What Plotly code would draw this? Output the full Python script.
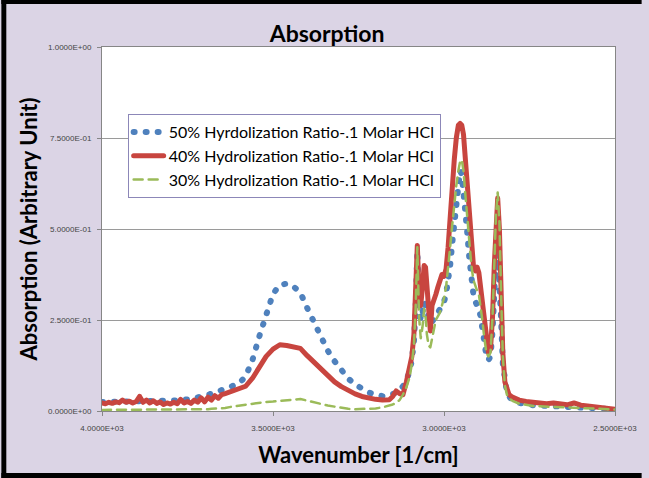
import plotly.graph_objects as go

# ---------------- data ----------------
wn_a = [4000, 3990, 3980, 3970, 3960, 3950, 3940, 3930, 3920, 3910, 3900, 3890,
        3880, 3870, 3860, 3850, 3840, 3830, 3820, 3810, 3800, 3790, 3780, 3770,
        3760, 3750, 3740, 3730, 3720, 3710, 3700, 3690, 3680, 3670, 3660, 3650]
red_a = [0.022, 0.020, 0.024, 0.021, 0.025, 0.023, 0.030, 0.024, 0.027, 0.022, 0.026, 0.040,
         0.024, 0.030, 0.022, 0.028, 0.021, 0.025, 0.018, 0.022, 0.019, 0.024, 0.020, 0.032,
         0.022, 0.026, 0.021, 0.030, 0.024, 0.036, 0.025, 0.038, 0.030, 0.042, 0.035, 0.045]
blue_a = [0.025, 0.025, 0.025, 0.025, 0.025, 0.025, 0.025, 0.025, 0.025, 0.025, 0.025, 0.025,
          0.025, 0.025, 0.025, 0.026, 0.026, 0.027, 0.027, 0.028, 0.028, 0.029, 0.029, 0.030,
          0.030, 0.031, 0.033, 0.035, 0.037, 0.039, 0.041, 0.043, 0.046, 0.050, 0.054, 0.058]
green_a = [0.003, 0.003, 0.003, 0.003, 0.003, 0.003, 0.003, 0.003, 0.003, 0.003, 0.003, 0.003,
           0.003, 0.003, 0.003, 0.003, 0.003, 0.003, 0.003, 0.003, 0.003, 0.003, 0.003, 0.003,
           0.003, 0.003, 0.004, 0.004, 0.004, 0.005, 0.005, 0.005, 0.006, 0.006, 0.007, 0.008]

wn_b = [3640, 3620, 3600, 3580, 3560, 3540, 3520, 3500, 3480, 3460, 3440, 3420, 3400,
        3380, 3360, 3340, 3320, 3300, 3280, 3260, 3240, 3220, 3200, 3180, 3160]
red_b = [0.048, 0.055, 0.060, 0.068, 0.090, 0.120, 0.150, 0.170, 0.182, 0.180, 0.176, 0.172, 0.152,
         0.133, 0.114, 0.095, 0.080, 0.067, 0.056, 0.047, 0.040, 0.035, 0.032, 0.030, 0.031]
blue_b = [0.063, 0.068, 0.075, 0.095, 0.140, 0.205, 0.270, 0.322, 0.346, 0.350, 0.342, 0.325, 0.283,
          0.241, 0.204, 0.166, 0.137, 0.110, 0.089, 0.073, 0.060, 0.051, 0.045, 0.041, 0.043]
green_b = [0.008, 0.012, 0.015, 0.018, 0.021, 0.023, 0.025, 0.026, 0.027, 0.028, 0.031, 0.033, 0.028,
           0.023, 0.019, 0.015, 0.012, 0.008, 0.006, 0.005, 0.005, 0.006, 0.007, 0.010, 0.014]

wn_c = [3150, 3140, 3130, 3120, 3110, 3100, 3094, 3088, 3083, 3078,
        3073, 3068, 3063, 3058, 3054, 3050, 3045, 3040, 3035, 3030,
        3024, 3018, 3012, 3006, 3000, 2994, 2988, 2982, 2976, 2970,
        2964, 2958, 2953, 2948, 2943, 2938, 2932, 2926, 2920, 2914,
        2908, 2903, 2898, 2893, 2888, 2882, 2876, 2870, 2864, 2858,
        2853, 2848, 2843, 2838, 2833, 2828, 2822, 2816, 2810]
red_c = [0.040, 0.055, 0.048, 0.045, 0.080, 0.120, 0.150, 0.210, 0.300, 0.455,
         0.330, 0.290, 0.340, 0.400, 0.395, 0.330, 0.260, 0.220, 0.290, 0.310,
         0.320, 0.340, 0.355, 0.375, 0.370, 0.390, 0.450, 0.540, 0.620, 0.690,
         0.750, 0.785, 0.790, 0.785, 0.760, 0.700, 0.620, 0.530, 0.450, 0.400,
         0.385, 0.395, 0.380, 0.340, 0.290, 0.230, 0.180, 0.160, 0.170, 0.260,
         0.400, 0.530, 0.585, 0.500, 0.320, 0.160, 0.080, 0.055, 0.045]
blue_c = [0.045, 0.050, 0.058, 0.068, 0.085, 0.110, 0.140, 0.190, 0.280, 0.440,
          0.300, 0.250, 0.270, 0.300, 0.290, 0.270, 0.250, 0.240, 0.245, 0.255,
          0.265, 0.270, 0.280, 0.290, 0.300, 0.320, 0.350, 0.400, 0.460, 0.520,
          0.580, 0.630, 0.660, 0.650, 0.610, 0.560, 0.490, 0.420, 0.360, 0.320,
          0.300, 0.290, 0.280, 0.260, 0.220, 0.180, 0.150, 0.140, 0.150, 0.220,
          0.330, 0.420, 0.450, 0.380, 0.250, 0.130, 0.070, 0.050, 0.040]
green_c = [0.018, 0.022, 0.030, 0.045, 0.065, 0.095, 0.130, 0.180, 0.280, 0.450,
           0.260, 0.200, 0.230, 0.280, 0.260, 0.210, 0.180, 0.175, 0.200, 0.230,
           0.250, 0.260, 0.270, 0.290, 0.310, 0.340, 0.390, 0.450, 0.510, 0.570,
           0.620, 0.660, 0.685, 0.690, 0.660, 0.600, 0.530, 0.460, 0.400, 0.360,
           0.340, 0.330, 0.320, 0.290, 0.250, 0.200, 0.160, 0.150, 0.160, 0.260,
           0.400, 0.540, 0.600, 0.520, 0.320, 0.150, 0.070, 0.045, 0.035]

wn_d = [2800, 2780, 2760, 2740, 2720, 2700, 2680, 2660, 2640, 2620, 2600, 2580, 2560, 2540, 2520, 2500]
red_d = [0.038, 0.030, 0.026, 0.024, 0.022, 0.020, 0.022, 0.018, 0.017, 0.022, 0.016, 0.014, 0.012, 0.010, 0.007, 0.005]
blue_d = [0.030, 0.022, 0.018, 0.016, 0.015, 0.014, 0.014, 0.013, 0.012, 0.012, 0.011, 0.010, 0.009, 0.008, 0.006, 0.005]
green_d = [0.028, 0.020, 0.016, 0.014, 0.013, 0.012, 0.012, 0.011, 0.010, 0.010, 0.009, 0.008, 0.007, 0.006, 0.005, 0.004]

wavenumber = wn_a + wn_b + wn_c + wn_d
absorb_50 = blue_a + blue_b + blue_c + blue_d
absorb_40 = red_a + red_b + red_c + red_d
absorb_30 = green_a + green_b + green_c + green_d

series_names = ["50% Hyrdolization Ratio-.1 Molar HCl",
                "40% Hydrolization Ratio-.1 Molar HCl",
                "30% Hydrolization Ratio-.1 Molar HCl"]

x_tickvals = [4000, 3500, 3000, 2500]
x_ticktext = ["4.0000E+03", "3.5000E+03", "3.0000E+03", "2.5000E+03"]
y_tickvals = [0, 0.25, 0.5, 0.75, 1.0]
y_ticktext = ["0.0000E+00", "2.5000E-01", "5.0000E-01", "7.5000E-01", "1.0000E+00"]

# ---------------- figure ----------------
W, H = 649, 478
L, R, T, B = 102, 27, 47, 67
pw, ph = W - L - R, H - T - B
BG = "#DBD4E5"

def px(xp):
    return (xp - L) / pw

def py(yp):
    return (H - B - yp) / ph

fig = go.Figure()
fig.add_trace(go.Scatter(x=wavenumber, y=absorb_50, mode="lines", name=series_names[0],
                         line=dict(color="#4F81BD", width=6, dash="1px,11px")))
fig.add_trace(go.Scatter(x=wavenumber, y=absorb_40, mode="lines", name=series_names[1],
                         line=dict(color="#C8453F", width=5)))
fig.add_trace(go.Scatter(x=wavenumber, y=absorb_30, mode="lines", name=series_names[2],
                         line=dict(color="#9BBB59", width=2.5, dash="9px,6px")))

tickfont = dict(family="Liberation Sans, Arial", size=8, color="#444444")
fig.update_layout(
    width=W, height=H, autosize=False,
    margin=dict(l=L, r=R, t=T, b=B, pad=0),
    paper_bgcolor=BG,
    plot_bgcolor="white",
    showlegend=True,
    title=dict(text="<b>Absorption</b>", x=0.504, xanchor="center", y=1 - 34 / H, yanchor="middle",
               font=dict(family="Lato, Open Sans", size=23, color="black")),
    legend=dict(x=px(128), y=py(114), xanchor="left", yanchor="top",
                bgcolor="white", bordercolor="#8C87B8", borderwidth=1,
                font=dict(family="Lato, Open Sans", size=16, color="black"),
                itemwidth=30, tracegroupgap=0),
    xaxis=dict(range=[4000, 2500], tickvals=x_tickvals, ticktext=x_ticktext,
               showgrid=False, zeroline=False, showline=True, linecolor="#868686", linewidth=1,
               mirror=True, ticks="outside", ticklen=4, tickcolor="#868686",
               tickfont=tickfont, ticklabelstandoff=5,
               title=dict(text="<b>Wavenumber [1/cm]</b>", standoff=16,
                          font=dict(family="Lato, Open Sans", size=22, color="black"))),
    yaxis=dict(range=[0, 1], tickvals=y_tickvals, ticktext=y_ticktext,
               showgrid=True, gridcolor="#9A9A9A", gridwidth=1, zeroline=False,
               showline=True, linecolor="#868686", linewidth=1, mirror=True,
               ticks="outside", ticklen=4, tickcolor="#868686",
               tickfont=tickfont, ticklabelstandoff=4,
               title=dict(text="<b>Absorption (Arbitrary Unit)</b>", standoff=4,
                          font=dict(family="Lato, Open Sans", size=22, color="black"))),
    shapes=[
        dict(type="rect", xref="paper", yref="paper", x0=px(0), x1=px(5), y0=py(H), y1=py(0),
             fillcolor="black", line=dict(width=0)),
        dict(type="rect", xref="paper", yref="paper", x0=px(0), x1=px(W), y0=py(4), y1=py(0),
             fillcolor="black", line=dict(width=0)),
        dict(type="rect", xref="paper", yref="paper", x0=px(0), x1=px(W), y0=py(H), y1=py(473),
             fillcolor="black", line=dict(width=0)),
    ],
)

post = """
var s = document.createElement('style');
s.textContent = 'html,body{margin:0;padding:0;overflow:hidden;background:%s;} .js-line{stroke-linecap:round;stroke-linejoin:round;}';
document.head.appendChild(s);
""" % BG
fig.write_html("out.html", post_script=post, config={"responsive": False})
